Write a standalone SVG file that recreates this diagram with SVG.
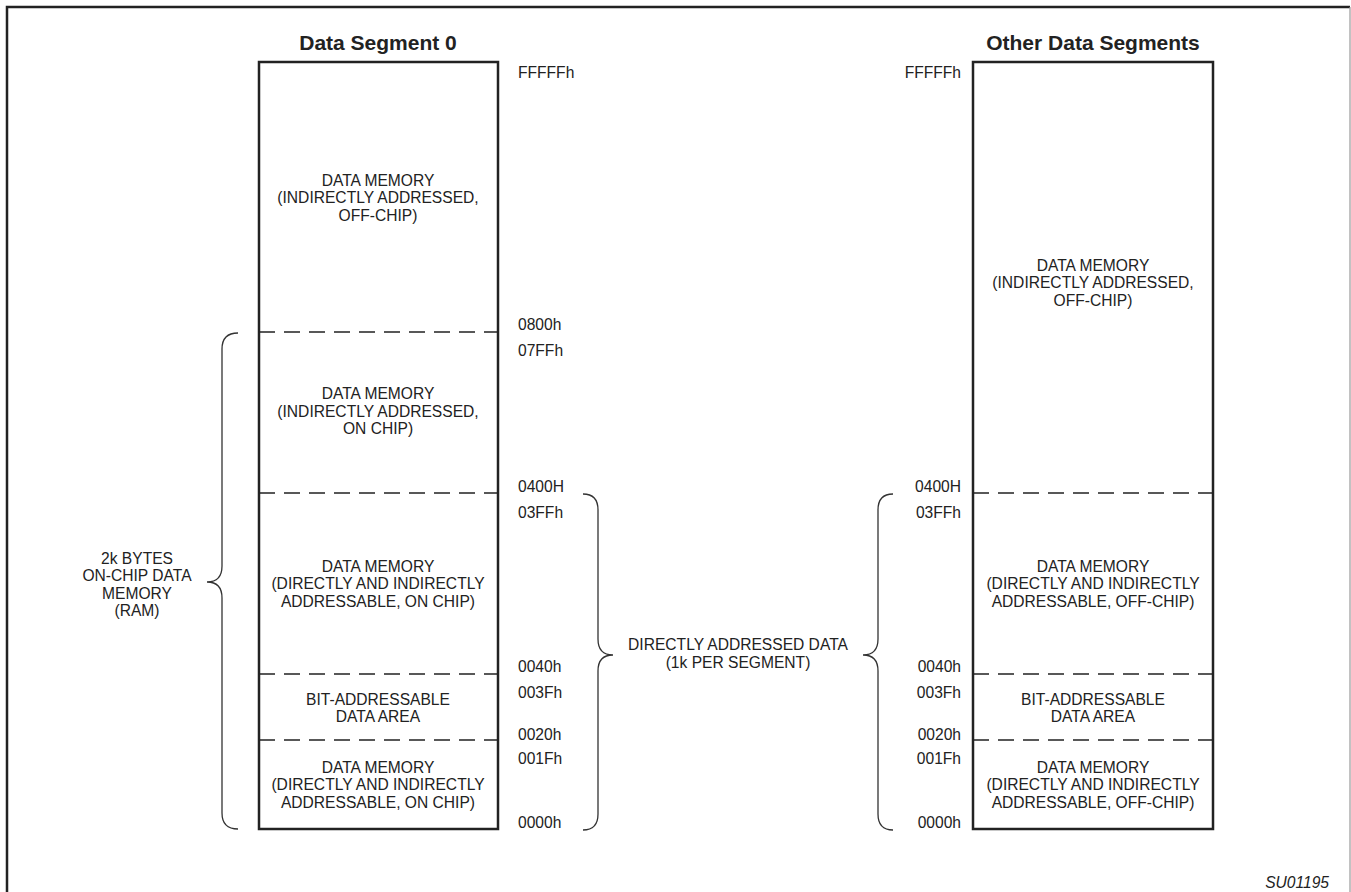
<svg xmlns="http://www.w3.org/2000/svg" width="1351" height="892" viewBox="0 0 1351 892">
<style>
text{font-family:"Liberation Sans",Arial,sans-serif;fill:#222;}
.t{font-size:15.6px;text-anchor:middle;}
.h{font-size:21px;font-weight:bold;text-anchor:middle;}
.a{font-size:15.6px;}
.ar{font-size:15.6px;text-anchor:end;}
.box{fill:none;stroke:#222;stroke-width:2.5;}
.dash{stroke:#222;stroke-width:1.3;stroke-dasharray:16 9;fill:none;}
.brace{fill:none;stroke:#333;stroke-width:1.3;}
</style>
<rect width="1351" height="892" fill="#fff"/>
<g id="frame">
<path d="M7,892 V7 H1350" fill="none" stroke="#222" stroke-width="2.5"/>
<line x1="1350" y1="7" x2="1350" y2="892" stroke="#999" stroke-width="1.2"/>
</g>
<g id="segment0">
<text class="h" x="378" y="50">Data Segment 0</text>
<rect class="box" x="259" y="62" width="239" height="767"/>
<line class="dash" x1="259" y1="332" x2="498" y2="332"/>
<line class="dash" x1="259" y1="493" x2="498" y2="493"/>
<line class="dash" x1="259" y1="674" x2="498" y2="674"/>
<line class="dash" x1="259" y1="740" x2="498" y2="740"/>
<text class="t" x="378" y="185.5">DATA MEMORY</text>
<text class="t" x="378" y="203">(INDIRECTLY ADDRESSED,</text>
<text class="t" x="378" y="220.5">OFF-CHIP)</text>
<text class="t" x="378" y="399">DATA MEMORY</text>
<text class="t" x="378" y="416.5">(INDIRECTLY ADDRESSED,</text>
<text class="t" x="378" y="434">ON CHIP)</text>
<text class="t" x="378" y="571.5">DATA MEMORY</text>
<text class="t" x="378" y="589">(DIRECTLY AND INDIRECTLY</text>
<text class="t" x="378" y="606.5">ADDRESSABLE, ON CHIP)</text>
<text class="t" x="378" y="704.5">BIT-ADDRESSABLE</text>
<text class="t" x="378" y="722">DATA AREA</text>
<text class="t" x="378" y="772.5">DATA MEMORY</text>
<text class="t" x="378" y="790">(DIRECTLY AND INDIRECTLY</text>
<text class="t" x="378" y="807.5">ADDRESSABLE, ON CHIP)</text>
</g>
<g id="addr0">
<text class="a" x="518" y="77.5">FFFFFh</text>
<text class="a" x="518" y="329.5">0800h</text>
<text class="a" x="518" y="355.5">07FFh</text>
<text class="a" x="518" y="491.5">0400H</text>
<text class="a" x="518" y="517.5">03FFh</text>
<text class="a" x="518" y="671.5">0040h</text>
<text class="a" x="518" y="697.5">003Fh</text>
<text class="a" x="518" y="739.5">0020h</text>
<text class="a" x="518" y="763.5">001Fh</text>
<text class="a" x="518" y="827.5">0000h</text>
</g>
<g id="segmentOther">
<text class="h" x="1093" y="50">Other Data Segments</text>
<rect class="box" x="973" y="62" width="240" height="767"/>
<line class="dash" x1="973" y1="493" x2="1213" y2="493"/>
<line class="dash" x1="973" y1="674" x2="1213" y2="674"/>
<line class="dash" x1="973" y1="740" x2="1213" y2="740"/>
<text class="t" x="1093" y="270.5">DATA MEMORY</text>
<text class="t" x="1093" y="288">(INDIRECTLY ADDRESSED,</text>
<text class="t" x="1093" y="305.5">OFF-CHIP)</text>
<text class="t" x="1093" y="571.5">DATA MEMORY</text>
<text class="t" x="1093" y="589">(DIRECTLY AND INDIRECTLY</text>
<text class="t" x="1093" y="606.5">ADDRESSABLE, OFF-CHIP)</text>
<text class="t" x="1093" y="704.5">BIT-ADDRESSABLE</text>
<text class="t" x="1093" y="722">DATA AREA</text>
<text class="t" x="1093" y="772.5">DATA MEMORY</text>
<text class="t" x="1093" y="790">(DIRECTLY AND INDIRECTLY</text>
<text class="t" x="1093" y="807.5">ADDRESSABLE, OFF-CHIP)</text>
</g>
<g id="addrOther">
<text class="ar" x="961" y="77.5">FFFFFh</text>
<text class="ar" x="961" y="491.5">0400H</text>
<text class="ar" x="961" y="517.5">03FFh</text>
<text class="ar" x="961" y="671.5">0040h</text>
<text class="ar" x="961" y="697.5">003Fh</text>
<text class="ar" x="961" y="739.5">0020h</text>
<text class="ar" x="961" y="763.5">001Fh</text>
<text class="ar" x="961" y="827.5">0000h</text>
</g>
<g id="braces">
<path class="brace" d="M238,333 Q222,333 222,349 V566 Q222,582 207,582 Q222,582 222,598 V813 Q222,829 238,829"/>
<path class="brace" d="M583,494 Q598,494 598,510 V639 Q598,655 613,655 Q598,655 598,671 V814 Q598,830 583,830"/>
<path class="brace" d="M893,494 Q878,494 878,510 V639 Q878,655 863,655 Q878,655 878,671 V814 Q878,830 893,830"/>
</g>
<g id="ram-label">
<text class="t" x="137" y="563.5">2k BYTES</text>
<text class="t" x="137" y="581">ON-CHIP DATA</text>
<text class="t" x="137" y="598.5">MEMORY</text>
<text class="t" x="137" y="616">(RAM)</text>
</g>
<g id="direct-label">
<text class="t" x="738" y="650">DIRECTLY ADDRESSED DATA</text>
<text class="t" x="738" y="668">(1k PER SEGMENT)</text>
</g>
<text x="1329" y="888" style="font-size:15.6px;font-style:italic;text-anchor:end">SU01195</text>
</svg>
